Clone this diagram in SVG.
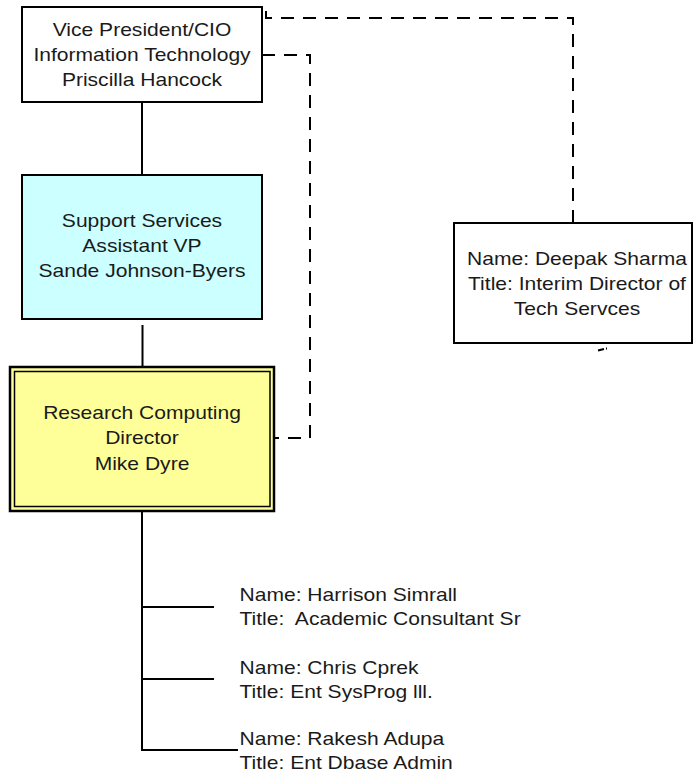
<svg xmlns="http://www.w3.org/2000/svg" width="698" height="778" viewBox="0 0 698 778">
<style>
text{font-family:"Liberation Sans",Arial,sans-serif;font-size:18px;fill:#1a1a1a}
.c{text-anchor:middle}
.box{stroke:#000;stroke-width:2}
.solid{fill:none;stroke:#000;stroke-width:2}
.dash{fill:none;stroke:#000;stroke-width:2;stroke-dasharray:13 9}
</style>
<rect width="698" height="778" fill="#fff"/>
<g id="connectors">
<path class="solid" d="M142,102V175"/>
<path class="solid" d="M142.5,325V366L141,368"/>
<path class="solid" d="M142,511V750H238M142,607H214M142,679H214"/>
<path class="dash" d="M262,55H310V438H274"/>
<path class="dash" d="M266,11V18H573V223"/>
<path d="M598,350.5L604,349M606,348.5h1" fill="none" stroke="#000" stroke-width="2"/>
</g>
<g id="vp">
<rect class="box" x="22" y="7" width="240" height="95" fill="#fff"/>
<g transform="translate(142,0) scale(1.17,1)">
<text class="c" x="0" y="36.5">Vice President/CIO</text>
<text class="c" x="0" y="61">Information Technology</text>
<text class="c" x="0" y="86">Priscilla Hancock</text>
</g>
</g>
<g id="support">
<rect class="box" x="22" y="175" width="240" height="144" fill="#ccffff"/>
<g transform="translate(142,0) scale(1.17,1)">
<text class="c" x="0" y="227">Support Services</text>
<text class="c" x="0" y="252">Assistant VP</text>
<text class="c" x="0" y="277.5">Sande Johnson-Byers</text>
</g>
</g>
<g id="research">
<rect x="10" y="367" width="264" height="144" fill="#ffff99" stroke="#000" stroke-width="2.5"/>
<rect x="14.5" y="371.5" width="255.5" height="135" fill="none" stroke="#000" stroke-width="1.5"/>
<g transform="translate(142,0) scale(1.17,1)">
<text class="c" x="0" y="419.5">Research Computing</text>
<text class="c" x="0" y="444.5">Director</text>
<text class="c" x="0" y="470">Mike Dyre</text>
</g>
</g>
<g id="deepak">
<rect class="box" x="454" y="223" width="238" height="120" fill="#fff"/>
<g transform="translate(577,0) scale(1.17,1)">
<text class="c" x="0" y="265">Name: Deepak Sharma</text>
<text class="c" x="0" y="290">Title: Interim Director of</text>
<text class="c" x="0" y="315">Tech Servces</text>
</g>
</g>
<g id="harrison" transform="translate(239.5,0) scale(1.17,1)">
<text x="0" y="600.7">Name: Harrison Simrall</text>
<text x="0" y="625" xml:space="preserve">Title:  Academic Consultant Sr</text>
</g>
<g id="chris" transform="translate(239.5,0) scale(1.17,1)">
<text x="0" y="674">Name: Chris Cprek</text>
<text x="0" y="698">Title: Ent SysProg lll.</text>
</g>
<g id="rakesh" transform="translate(239.5,0) scale(1.17,1)">
<text x="0" y="745">Name: Rakesh Adupa</text>
<text x="0" y="769.5">Title: Ent Dbase Admin</text>
</g>
</svg>
